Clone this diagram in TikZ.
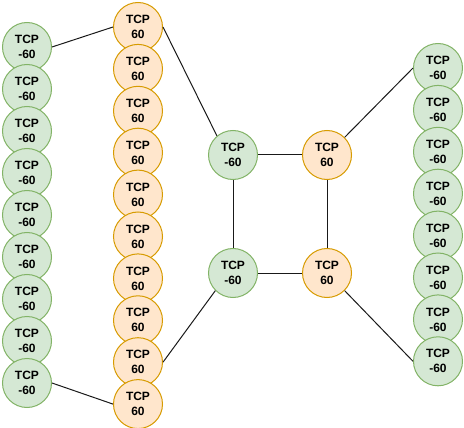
\documentclass[tikz,border=0pt]{standalone}
\usepackage{fontspec}
\setmainfont{Liberation Sans}
\usetikzlibrary{positioning}
\definecolor{negfill}{HTML}{D5E8D4}
\definecolor{negline}{HTML}{82B366}
\definecolor{posfill}{HTML}{FFE6CC}
\definecolor{posline}{HTML}{D79B00}
\begin{document}
\begin{tikzpicture}[x=1pt,y=-1pt,node distance=42pt,on grid,
    tcp/.style={circle,minimum size=49pt,inner sep=0pt,line width=1pt,align=center,
        font=\fontsize{12}{15}\selectfont\bfseries},
    negtcp/.style={tcp,draw=negline,fill=negfill},
    postcp/.style={tcp,draw=posline,fill=posfill},
    link/.style={line width=1pt,black!90}]
                \useasboundingbox (0,0) rectangle (464,428);
                % left column
                \node[negtcp] (g_1) at (27,47) {TCP\\-60};
                \node[negtcp] [below=of g_1] (g_2) {TCP\\-60};
                \node[negtcp] [below=of g_2] (g_3) {TCP\\-60};
                \node[negtcp] [below=of g_3] (g_4) {TCP\\-60};
                \node[negtcp] [below=of g_4] (g_5) {TCP\\-60};
                \node[negtcp] [below=of g_5] (g_6) {TCP\\-60};
                \node[negtcp] [below=of g_6] (g_7) {TCP\\-60};
                \node[negtcp] [below=of g_7] (g_8) {TCP\\-60};
                \node[negtcp] [below=of g_8] (g_9) {TCP\\-60};
                % second column
                \node[postcp] (o_1) at (138,27) {TCP\\60};
                \node[postcp] [below=41.9pt of o_1] (o_2) {TCP\\60};
                \node[postcp] [below=41.9pt of o_2] (o_3) {TCP\\60};
                \node[postcp] [below=41.9pt of o_3] (o_4) {TCP\\60};
                \node[postcp] [below=41.9pt of o_4] (o_5) {TCP\\60};
                \node[postcp] [below=41.9pt of o_5] (o_6) {TCP\\60};
                \node[postcp] [below=41.9pt of o_6] (o_7) {TCP\\60};
                \node[postcp] [below=41.9pt of o_7] (o_8) {TCP\\60};
                \node[postcp] [below=41.9pt of o_8] (o_9) {TCP\\60};
                \node[postcp] [below=41.9pt of o_9] (o_10) {TCP\\60};
                % middle square
                \node[negtcp] (m_1) at (233,155) {TCP\\-60};
                \node[negtcp] [below=118pt of m_1] (m_2) {TCP\\-60};
                \node[postcp] [right=94pt of m_1] (p_1) {TCP\\60};
                \node[postcp] [right=94pt of m_2] (p_2) {TCP\\60};
                % right column
                \node[negtcp] (r_1) at (438,68) {TCP\\-60};
                \node[negtcp] [below=41.9pt of r_1] (r_2) {TCP\\-60};
                \node[negtcp] [below=41.9pt of r_2] (r_3) {TCP\\-60};
                \node[negtcp] [below=41.9pt of r_3] (r_4) {TCP\\-60};
                \node[negtcp] [below=41.9pt of r_4] (r_5) {TCP\\-60};
                \node[negtcp] [below=41.9pt of r_5] (r_6) {TCP\\-60};
                \node[negtcp] [below=41.9pt of r_6] (r_7) {TCP\\-60};
                \node[negtcp] [below=41.9pt of r_7] (r_8) {TCP\\-60};
                \path[link]
                (g_1.east) edge (o_1.west)
                (g_9.east) edge (o_10.west)
                (o_1.east) edge (m_1.130)
                (o_9.east) edge (m_2.225)
                (m_1) edge (p_1)
                (m_1) edge (m_2)
                (p_1) edge (p_2)
                (m_2) edge (p_2)
                (p_1.45) edge (r_1.west)
                (p_2.-45) edge (r_8.west);
             \end{tikzpicture}
\end{document}
